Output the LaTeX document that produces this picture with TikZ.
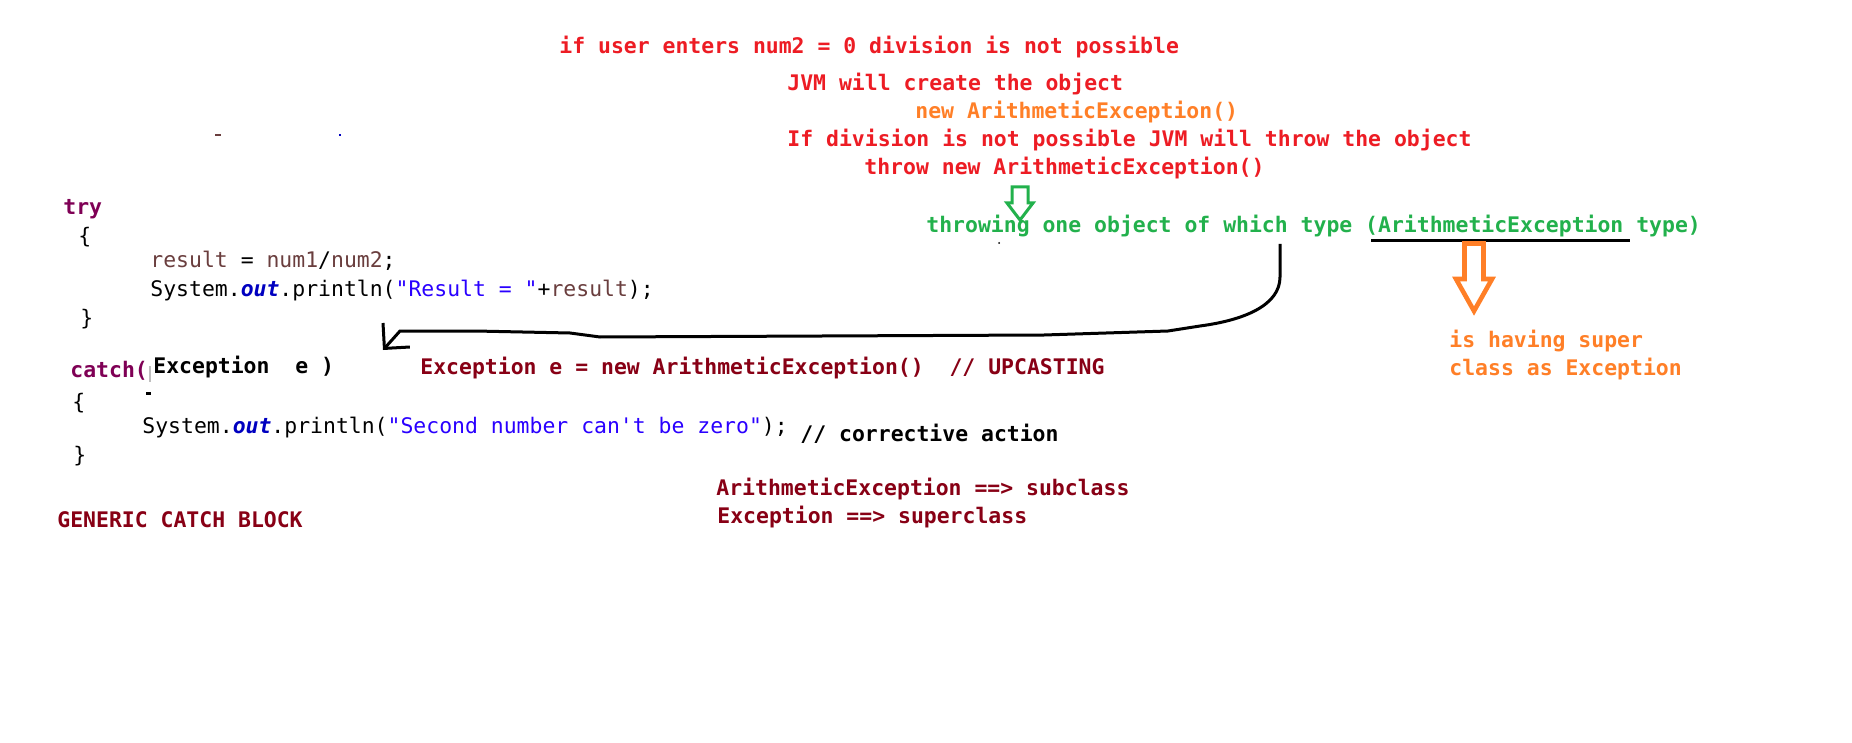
\documentclass[tikz,border=0pt]{standalone}
\usepackage{fontspec}
\setmonofont{DejaVu Sans Mono}[ItalicFont={DejaVu Sans Mono Oblique},BoldItalicFont={DejaVu Sans Mono Bold Oblique}]
\usetikzlibrary{arrows.meta}
\definecolor{msgred}{HTML}{ED1C24}
\definecolor{objorange}{HTML}{FF7F27}
\definecolor{typegreen}{HTML}{22B14C}
\definecolor{castred}{HTML}{880015}
\definecolor{keyword}{HTML}{7F0055}
\definecolor{strblue}{HTML}{2A00FF}
\definecolor{fieldblue}{HTML}{0000C0}
\definecolor{varbrown}{HTML}{6A3E3E}
\newcommand{\codefont}{\ttfamily\fontsize{10.72}{13}\selectfont}
\newcommand{\outfield}{{\color{fieldblue}\bfseries\itshape out}}
\tikzset{
  code/.style={anchor=base west, inner sep=0pt, font=\codefont},
  note/.style={code, font=\codefont\bfseries},
  hollow/.style={line join=miter},
  conn/.style={line width=1.5pt, -{Straight Barb[length=9pt,width=18pt]}},
}
\begin{document}
\begin{tikzpicture}[x=0.5pt,y=-0.5pt]
        \fill[white] (0,0) rectangle (1852,743);
        \useasboundingbox (0,0) rectangle (1852,743);
        % what the JVM does
        \node[note, msgred] (cond) at (559,54) {if user enters num2 = 0 division is not possible};
        \node[note, msgred] (create) at (787,91) {JVM will create the object};
        \node[note, objorange] (newobj) at (915,118.5) {new ArithmeticException()};
        \node[note, msgred] (throwtxt) at (787,147) {If division is not possible JVM will throw the object};
        \node[note, msgred] (throwstmt) at (864,175) {throw new ArithmeticException()};
        \draw[hollow, typegreen, line width=1.5pt] (1012,187) -- (1028,187) -- (1028,203) -- (1033,203)
              -- (1020,220) -- (1007,203) -- (1012,203) -- cycle;
        \node[note, typegreen] (throwing) at (926,233) {throwing one object of which type (ArithmeticException type)};
        \draw[line width=1.5pt] (1371,240.5) -- (1630,240.5);
        \draw[hollow, objorange, line width=2.3pt] (1464.5,243.5) -- (1483.5,243.5) -- (1483.5,279) -- (1492,279)
              -- (1474,311) -- (1456,279) -- (1464.5,279) -- cycle;
        \node[note, objorange] (super) at (1449,347) {is having super};
        \node[note, objorange] (superb) at (1449,375) {class as Exception};
        % try block
        \node[note, keyword] (try) at (63,215) {try};
        \node[code] (tryopen) at (78,244) {\{};
        \node[code] (div) at (150,268) {{\color{varbrown}result} = {\color{varbrown}num1}/{\color{varbrown}num2};};
        \node[code] (printres) at (150,296) {System.\outfield.println({\color{strblue}"Result = "}+{\color{varbrown}result});};
        \node[code] (tryclose) at (80,325) {\}};
        % catch block
        \node[note, keyword] (catch) at (70,377) {catch(};
        \node[note, fill=white, inner ysep=3pt, inner xsep=1pt] (param) at (151,373) {Exception\ \ e )};
        \draw[gray!50, line width=0.8pt] (150,366) -- (150,382);
        \draw[line width=1.5pt] (146,393) -- (151,393);
        \node[code] (catchopen) at (72,409) {\{};
        \node[code] (printzero) at (142,433) {System.\outfield.println({\color{strblue}"Second number can't be zero"});};
        \node[note] (corrective) at (800,441) {// corrective action};
        \node[code] (catchclose) at (73,462) {\}};
        \node[note, castred] (generic) at (57,527) {GENERIC CATCH BLOCK};
        % upcasting
        \node[note, castred] (upcast) at (420,374) {Exception e = new ArithmeticException()\ \ // UPCASTING};
        \node[note, castred] (sub) at (716,495) {ArithmeticException ==> subclass};
        \node[note, castred] (supcl) at (717,523) {Exception ==> superclass};
        % thrown object caught by the parameter
        \coordinate (thrown) at (1280,244);
        \coordinate (caught) at (383,350);
        \draw[conn] (thrown) -- (1280,277) .. controls (1280,305) and (1245,320) .. (1200,326)
              -- (1168,331) -- (1044,335) -- (600,337) -- (570,333) -- (475,331) -- (400,331) -- (caught);
        % stray marks
        \draw[varbrown, line width=1pt] (215,135.5) -- (221,135.5);
        \draw[fieldblue, line width=1pt] (339,135.5) -- (341,135.5);
        \fill (999,243) circle (1);
\end{tikzpicture}
\end{document}
